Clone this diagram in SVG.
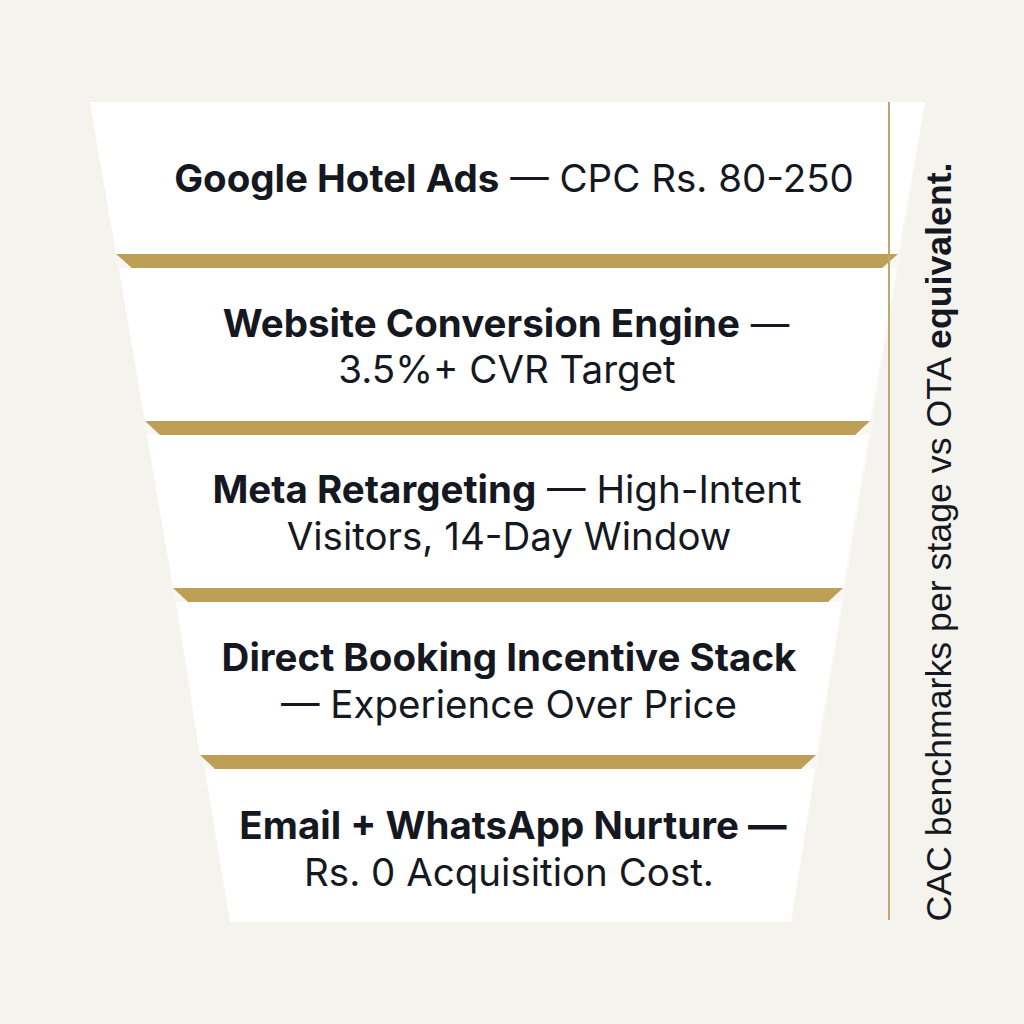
<svg xmlns="http://www.w3.org/2000/svg" width="1024" height="1024" viewBox="0 0 1024 1024">
<defs>
<style>
.band{fill:#ffffff}
.gold{fill:#bd9f55}
.t{font-family:Inter,"Liberation Sans",sans-serif;font-size:38.5px;fill:#151821;text-anchor:middle}
.b{font-weight:700}
.side{font-family:"Liberation Sans",Arial,sans-serif;font-size:35.7px;fill:#151821;text-anchor:middle}
</style>
</defs>
<rect width="1024" height="1024" fill="#f4f3ee"/>
<polygon points="90,102 925,102 791,922 230,922" fill="#f8f7f3"/>
<g id="stage1">
<polygon class="band" points="90,102 925,102 898,254 116,254"/>
<polygon class="gold" points="116,254 898,254 882,268 132,268"/>
<text class="t" x="514" y="192"><tspan class="b">Google Hotel Ads</tspan> — CPC Rs. 80-250</text>
</g>
<g id="stage2">
<polygon class="band" points="119,268 897,268 870,421 145,421"/>
<polygon class="gold" points="145,421 870,421 855,435 160,435"/>
<text class="t" x="506" y="337"><tspan class="b">Website Conversion Engine</tspan> —</text>
<text class="t" x="507" y="383">3.5%+ CVR Target</text>
</g>
<g id="stage3">
<polygon class="band" points="147,435 869,435 843,588 173,588"/>
<polygon class="gold" points="173,588 843,588 828,602 188,602"/>
<text class="t" x="507" y="503"><tspan class="b">Meta Retargeting</tspan> — High-Intent</text>
<text class="t" x="509" y="550">Visitors, 14-Day Window</text>
</g>
<g id="stage4">
<polygon class="band" points="176,602 842,602 816,755 200,755"/>
<polygon class="gold" points="200,755 816,755 801,769 215,769"/>
<text class="t b" x="509" y="671">Direct Booking Incentive Stack</text>
<text class="t" x="509" y="718">— Experience Over Price</text>
</g>
<g id="stage5">
<polygon class="band" points="205,769 815,769 791,922 230,922"/>
<text class="t b" x="513" y="839">Email + WhatsApp Nurture —</text>
<text class="t" x="509" y="886">Rs. 0 Acquisition Cost.</text>
</g>
<g id="connectors">
<line x1="889" y1="102" x2="889" y2="920" stroke="#c2a768" stroke-width="2"/>
</g>
<g id="sidenote">
<text class="side" transform="translate(951,542) rotate(-90)">CAC benchmarks per stage vs OTA <tspan class="b">equivalent.</tspan></text>
</g>
</svg>
